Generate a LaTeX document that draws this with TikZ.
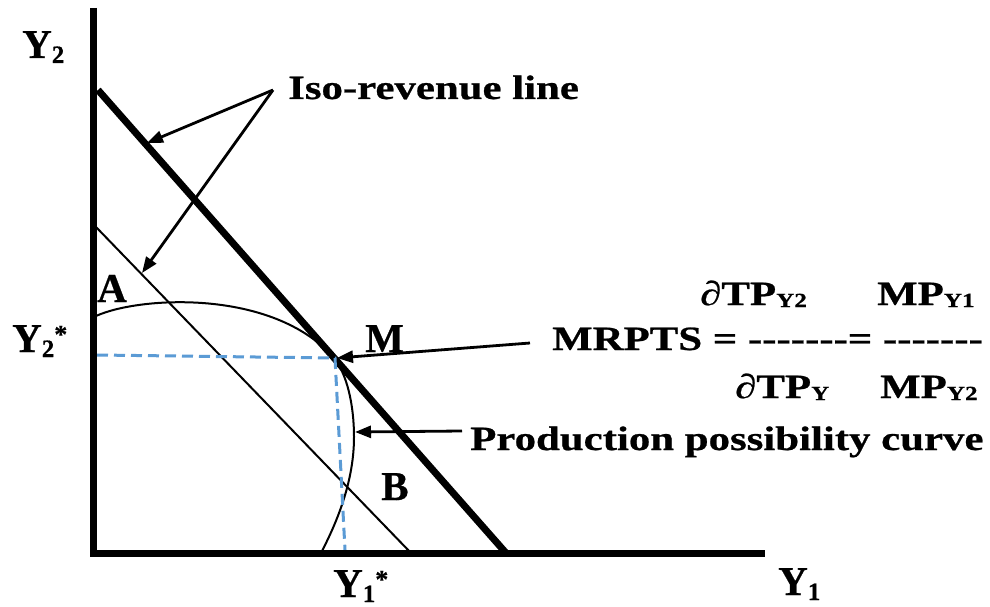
\documentclass[tikz,border=0pt]{standalone}
\usepackage{fontspec}
\setmainfont{Liberation Serif}[BoldFeatures={FakeBold=0.6}]
\newfontfamily\annfont{Liberation Serif}[FakeStretch=1.26, BoldFeatures={FakeBold=0.7}]
\usetikzlibrary{arrows.meta}
\definecolor{guideblue}{RGB}{91,155,213}
\newcommand{\axsub}[1]{\raisebox{-5pt}{\fontsize{25}{25}\selectfont #1}}
\newcommand{\axsup}[1]{\raisebox{9pt}{\fontsize{26}{26}\selectfont #1}}
\newcommand{\fsub}[1]{\raisebox{-2pt}{\fontsize{20}{20}\selectfont #1}}
\begin{document}
\begin{tikzpicture}[x=1pt,y=-1pt,
  lbl/.style={inner sep=0pt, anchor=base west, font=\fontsize{41}{41}\selectfont\bfseries},
  ann/.style={inner sep=0pt, anchor=base west, font=\annfont\fontsize{34}{34}\selectfont\bfseries},
  axisline/.style={line width=7pt},
  thickiso/.style={line width=7pt},
  thiniso/.style={line width=2pt},
  ppc/.style={line width=2pt},
  guide/.style={guideblue, line width=3pt, dash pattern=on 11pt off 6pt},
  pointer/.style={line width=2.8pt, -{Triangle[length=16pt,width=12pt]}}
]
\useasboundingbox (0,0) rectangle (990,607);
\fill[white] (0,0) rectangle (990,607);

% iso-revenue lines
\coordinate (T1) at (98,90);
\coordinate (T2) at (506,553);
\coordinate (S1) at (96,227);
\coordinate (S2) at (411,553);
\draw[thickiso] (T1) -- (T2);
\draw[thiniso] (S1) -- (S2);

% production possibility curve
\coordinate (M) at (333,357);
\draw[ppc] (96,316) .. controls (140,296) and (273,289) .. (M)
  .. controls (347,373) and (354,405) .. (354,437)
  .. controls (354,480) and (338,520) .. (322,551);

% guides
\draw[guide] (97,355) -- (335,358) -- (345,550);

% axes
\coordinate (O) at (93,553);
\draw[axisline] (93,8) -- (O) -- (765,553);

% labels
\node[lbl] (y2) at (22,58) {Y\axsub{2}};
\node[lbl] (y2s) at (12,352) {Y\axsub{2}\axsup{*}};
\node[lbl] (y1s) at (333,597) {Y\axsub{1}\axsup{*}};
\node[lbl] (y1) at (778,595) {Y\axsub{1}};
\node[lbl] (A) at (97,302) {A};
\node[lbl] (Mlab) at (365,352) {M};
\node[lbl] (B) at (381,500) {B};

% annotations
\node[ann] (iso) at (288,99) {Iso-revenue line};
\node[ann] (num1) at (700,305) {∂TP\fsub{Y2}};
\node[ann] (num2) at (877,305) {MP\fsub{Y1}};
\node[ann] (mrpts) at (552,350) {MRPTS = -------= -------};
\node[ann] (den1) at (735,398) {∂TP\fsub{Y}};
\node[ann] (den2) at (880,398) {MP\fsub{Y2}};
\node[ann] (ppclab) at (470,450) {Production possibility curve};

% pointers
\coordinate (isoP) at (273,90);
\coordinate (tipA) at (147,143);
\coordinate (tipB) at (142,273);
\coordinate (mP) at (530,343);
\coordinate (tipM) at (337,358);
\coordinate (cP) at (462,431);
\coordinate (tipC) at (355,432);
\draw[pointer] (isoP) -- (tipA);
\draw[pointer] (isoP) -- (tipB);
\draw[pointer] (mP) -- (tipM);
\draw[pointer] (cP) -- (tipC);
\end{tikzpicture}
\end{document}
